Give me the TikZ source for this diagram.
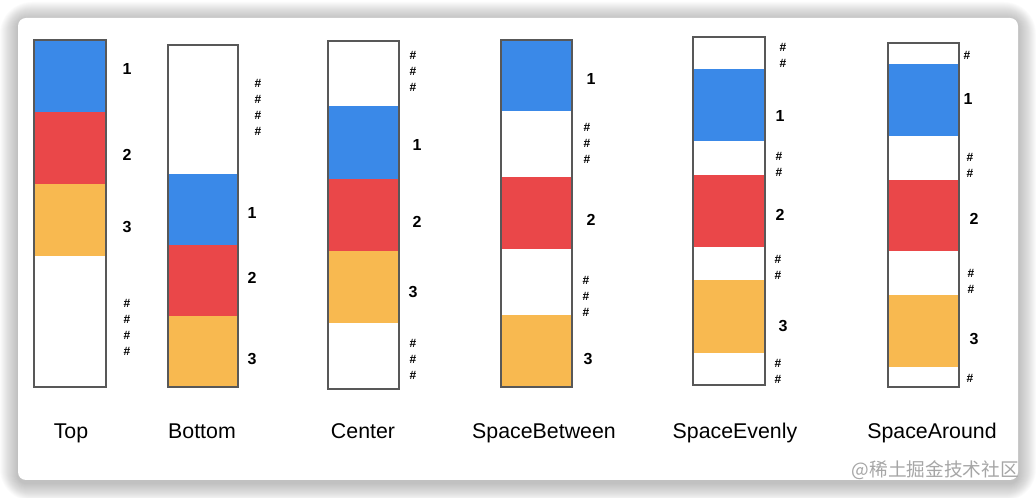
\documentclass[tikz,border=0pt]{standalone}
\usepackage{fontspec}
\setmainfont{Liberation Sans}
\newfontfamily\cjkfont{Noto Sans CJK SC}
\usetikzlibrary{positioning}

\definecolor{itemblue}{RGB}{58,137,232}
\definecolor{itemred}{RGB}{234,71,73}
\definecolor{itemorange}{RGB}{248,185,80}
\definecolor{framegray}{RGB}{88,88,88}

\begin{document}
\begin{tikzpicture}[
		x=0.75pt,
		y=-0.75pt,
		blue item/.style={fill=itemblue},
		red item/.style={fill=itemred},
		orange item/.style={fill=itemorange},
		frame/.style={draw=framegray, line width=1pt},
		num node/.style={font=\bfseries\fontsize{12}{14}\selectfont, inner sep=1pt},
		gap node/.style={font=\bfseries\fontsize{9}{12}\selectfont, align=center, inner sep=0pt},
		title node/.style={font=\fontsize{16}{18}\selectfont, anchor=base}
		]
		
		\useasboundingbox (0,0) rectangle (1036,498);
		
		% card with soft shadow
		\foreach \i in {1,...,18}
			\fill[black, opacity=0.014, rounded corners=6+\i] (18-\i,20-\i) rectangle (1018+\i,483+\i);
		\fill[white, rounded corners=6] (18,18) rectangle (1018,480);
		
		% Top
		\fill[blue item] (34,40) rectangle (106,112);
		\fill[red item] (34,112) rectangle (106,184);
		\fill[orange item] (34,184) rectangle (106,256);
		\draw[frame] (34,40) rectangle (106,387);
		\node[num node] (top1) at (127,69) {1};
		\node[num node] (top2) at (127,155) {2};
		\node[num node] (top3) at (127,227) {3};
		\node[gap node] (topgap) at (127,327) {\#\\\#\\\#\\\#};
		
		% Bottom
		\fill[blue item] (168,174) rectangle (238,245);
		\fill[red item] (168,245) rectangle (238,316);
		\fill[orange item] (168,316) rectangle (238,387);
		\draw[frame] (168,45) rectangle (238,387);
		\node[gap node] (botgap) at (258,107) {\#\\\#\\\#\\\#};
		\node[num node] (bot1) at (252,213) {1};
		\node[num node] (bot2) at (252,278) {2};
		\node[num node] (bot3) at (252,359) {3};
		
		% Center
		\fill[blue item] (328,106) rectangle (399,179);
		\fill[red item] (328,179) rectangle (399,251);
		\fill[orange item] (328,251) rectangle (399,323);
		\draw[frame] (328,41) rectangle (399,389);
		\node[gap node] (cengap1) at (413,71) {\#\\\#\\\#};
		\node[num node] (cen1) at (417,145) {1};
		\node[num node] (cen2) at (417,222) {2};
		\node[num node] (cen3) at (413,292) {3};
		\node[gap node] (cengap2) at (413,359) {\#\\\#\\\#};
		
		% SpaceBetween
		\fill[blue item] (501,40) rectangle (572,111);
		\fill[red item] (501,177) rectangle (572,249);
		\fill[orange item] (501,315) rectangle (572,387);
		\draw[frame] (501,40) rectangle (572,387);
		\node[num node] (btw1) at (591,79) {1};
		\node[gap node] (btwgap1) at (587,143) {\#\\\#\\\#};
		\node[num node] (btw2) at (591,220) {2};
		\node[gap node] (btwgap2) at (586,296) {\#\\\#\\\#};
		\node[num node] (btw3) at (588,359) {3};
		
		% SpaceEvenly
		\fill[blue item] (693,69) rectangle (765,141);
		\fill[red item] (693,175) rectangle (765,247);
		\fill[orange item] (693,280) rectangle (765,353);
		\draw[frame] (693,37) rectangle (765,385);
		\node[gap node] (evgap1) at (783,55) {\#\\\#};
		\node[num node] (ev1) at (780,116) {1};
		\node[gap node] (evgap2) at (779,164) {\#\\\#};
		\node[num node] (ev2) at (780,215) {2};
		\node[gap node] (evgap3) at (778,267) {\#\\\#};
		\node[num node] (ev3) at (783,326) {3};
		\node[gap node] (evgap4) at (778,371) {\#\\\#};
		
		% SpaceAround
		\fill[blue item] (888,64) rectangle (959,136);
		\fill[red item] (888,180) rectangle (959,251);
		\fill[orange item] (888,295) rectangle (959,367);
		\draw[frame] (888,43) rectangle (959,387);
		\node[gap node] (argap1) at (967,55) {\#};
		\node[num node] (ar1) at (968,99) {1};
		\node[gap node] (argap2) at (970,165) {\#\\\#};
		\node[num node] (ar2) at (974,219) {2};
		\node[gap node] (argap3) at (971,281) {\#\\\#};
		\node[num node] (ar3) at (974,339) {3};
		\node[gap node] (argap4) at (970,378) {\#};
		
		% titles
		\node[title node] (ttop) at (71,439) {Top};
		\node[title node] (tbot) at (202,439) {Bottom};
		\node[title node] (tcen) at (363,439) {Center};
		\node[title node] (tbtw) at (544,439) {SpaceBetween};
		\node[title node] (tev) at (735,439) {SpaceEvenly};
		\node[title node] (tar) at (932,439) {SpaceAround};
		
		\node[text=black!35, font=\cjkfont\fontsize{14}{16}\selectfont, anchor=east, inner sep=0pt] (mark) at (1019,470) {@稀土掘金技术社区};
	\end{tikzpicture}
\end{document}
